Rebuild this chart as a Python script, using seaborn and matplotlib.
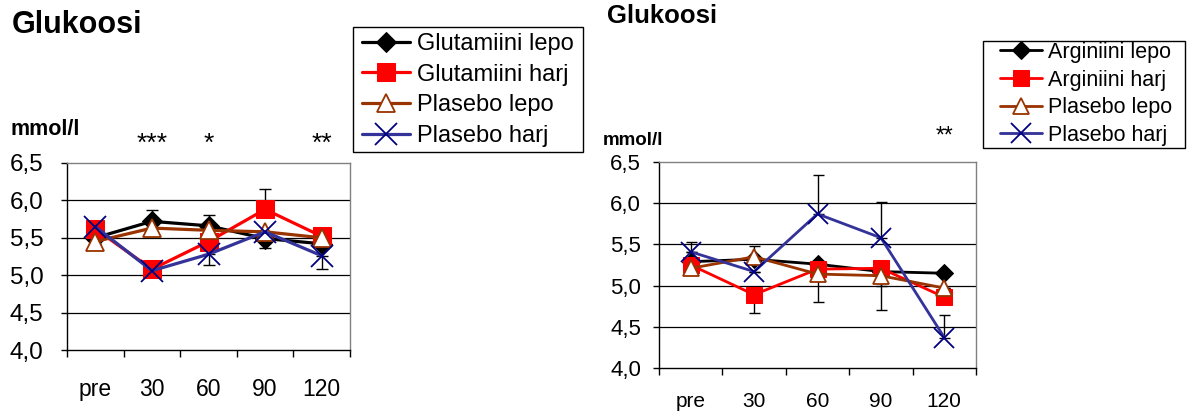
import matplotlib
matplotlib.use("Agg")
import matplotlib.pyplot as plt
import matplotlib.transforms as mtransforms
from matplotlib.patches import Rectangle
import seaborn as sns
import numpy as np

# ---------------- data ----------------
categories = ["pre", "30", "60", "90", "120"]
yticks = [4.0, 4.5, 5.0, 5.5, 6.0, 6.5]
ytick_labels = ["4,0", "4,5", "5,0", "5,5", "6,0", "6,5"]

# Left panel (glutamine)
left_names = ["Glutamiini lepo", "Glutamiini harj", "Plasebo lepo", "Plasebo harj"]
glu_lepo = [5.50, 5.72, 5.66, 5.49, 5.42]
glu_harj = [5.62, 5.08, 5.45, 5.88, 5.52]
plaL_lepo = [5.45, 5.63, 5.60, 5.58, 5.50]
plaL_harj = [5.65, 5.06, 5.28, 5.58, 5.26]
glu_lepo_up = [0.00, 0.15, 0.14, 0.00, 0.00]
glu_lepo_dn = [0.08, 0.00, 0.00, 0.12, 0.00]
glu_harj_up = [0.00, 0.00, 0.00, 0.27, 0.00]
glu_harj_dn = [0.00, 0.00, 0.00, 0.00, 0.00]
plaL_lepo_up = [0.00, 0.00, 0.00, 0.00, 0.00]
plaL_lepo_dn = [0.00, 0.11, 0.00, 0.00, 0.00]
plaL_harj_up = [0.00, 0.00, 0.00, 0.00, 0.00]
plaL_harj_dn = [0.00, 0.00, 0.15, 0.00, 0.18]
left_stars = {"30": "***", "60": "*", "120": "**"}

# Right panel (arginine)
right_names = ["Arginiini lepo", "Arginiini harj", "Plasebo lepo", "Plasebo harj"]
arg_lepo = [5.29, 5.32, 5.26, 5.17, 5.15]
arg_harj = [5.25, 4.89, 5.20, 5.21, 4.86]
plaR_lepo = [5.21, 5.35, 5.14, 5.12, 4.97]
plaR_harj = [5.41, 5.17, 5.87, 5.58, 4.37]
arg_lepo_up = [0.24, 0.16, 0.00, 0.00, 0.00]
arg_lepo_dn = [0.00, 0.00, 0.00, 0.17, 0.00]
arg_harj_up = [0.00, 0.00, 0.00, 0.00, 0.00]
arg_harj_dn = [0.00, 0.22, 0.00, 0.00, 0.00]
plaR_lepo_up = [0.00, 0.00, 0.00, 0.00, 0.00]
plaR_lepo_dn = [0.06, 0.00, 0.34, 0.42, 0.00]
plaR_harj_up = [0.00, 0.00, 0.47, 0.44, 0.27]
plaR_harj_dn = [0.00, 0.00, 0.00, 0.00, 0.00]
right_stars = {"120": "**"}

# ---------------- style ----------------
sns.set_theme(style="white")
plt.rcParams["font.family"] = ["Liberation Sans", "DejaVu Sans"]
plt.rcParams["text.color"] = "black"
plt.rcParams["xtick.color"] = "black"
plt.rcParams["ytick.color"] = "black"
plt.rcParams["axes.labelcolor"] = "black"

W, H = 1195, 416
fig = plt.figure(figsize=(W / 100, H / 100), dpi=100)
fig.patch.set_facecolor("white")


def px_axes(x0, y0, x1, y1):
    return fig.add_axes([x0 / W, 1 - y1 / H, (x1 - x0) / W, (y1 - y0) / H])


black, red, brown, blue, xblue = "#000000", "#FF0000", "#993300", "#333399", "#000080"


def draw_panel(ax, series, errs, names, scale, ytick_fs, xtick_fs, tick_pad_y, tick_pad_x):
    xpos = np.arange(len(categories))
    lw = 2.3 * scale
    styles = [
        dict(color=black, marker="D", markersize=10 * scale, markerfacecolor=black,
             markeredgecolor=black),
        dict(color=red, marker="s", markersize=13 * scale, markerfacecolor=red,
             markeredgecolor=red),
        dict(color=brown, marker="^", markersize=13 * scale, markerfacecolor="white",
             markeredgecolor=brown, markeredgewidth=1.3),
        dict(color=blue, marker="x", markersize=16 * scale, markeredgecolor=xblue,
             markeredgewidth=1.3),
    ]
    for vals, (up, dn), name, st in zip(series, errs, names, styles):
        ax.errorbar(xpos, vals, yerr=[dn, up], fmt="none", ecolor="black",
                    elinewidth=1.0, capsize=4.5 * scale, capthick=1.0, zorder=2)
        sns.lineplot(x=xpos, y=vals, ax=ax, sort=False, linewidth=lw, label=name,
                     zorder=3, **st)
    ax.set_xlim(-0.5, len(categories) - 0.5)
    ax.set_ylim(4.0, 6.5)
    ax.set_xticks(xpos)
    ax.set_xticklabels(categories, fontsize=xtick_fs)
    ax.set_xticks(np.arange(-0.5, len(categories)), minor=True)
    ax.tick_params(axis="x", which="major", length=0, pad=tick_pad_x)
    ax.tick_params(axis="x", which="minor", length=5, width=1, color="black",
                   direction="out", bottom=True)
    ax.set_yticks(yticks)
    ax.set_yticklabels(ytick_labels, fontsize=ytick_fs)
    ax.tick_params(axis="y", length=4, width=1, color="black", direction="out",
                   left=True, pad=tick_pad_y)
    for y in yticks[1:-1]:
        ax.axhline(y, color="black", linewidth=0.9, zorder=1)
    ax.spines["top"].set_color("#808080")
    ax.spines["right"].set_color("#808080")
    ax.spines["left"].set_color("black")
    ax.spines["bottom"].set_color("black")
    for s in ax.spines.values():
        s.set_linewidth(1.0)
    ax.set_xlabel("")
    ax.set_ylabel("")
    ax.grid(False)
    leg = ax.get_legend()
    if leg is not None:
        leg.remove()


# Left panel
axL = px_axes(67, 163, 350, 350)
draw_panel(
    axL,
    [glu_lepo, glu_harj, plaL_lepo, plaL_harj],
    [(glu_lepo_up, glu_lepo_dn), (glu_harj_up, glu_harj_dn),
     (plaL_lepo_up, plaL_lepo_dn), (plaL_harj_up, plaL_harj_dn)],
    left_names, 1.0, 17.5, 16.5, 13, 20,
)
# Right panel
axR = px_axes(659, 162, 976, 368)
draw_panel(
    axR,
    [arg_lepo, arg_harj, plaR_lepo, plaR_harj],
    [(arg_lepo_up, arg_lepo_dn), (arg_harj_up, arg_harj_dn),
     (plaR_lepo_up, plaR_lepo_dn), (plaR_harj_up, plaR_harj_dn)],
    right_names, 0.88, 16, 15, 9, 17,
)


def framed_legend(ax, box, line_x, rows_mid_y, fs, handlelength, textpad, spacing):
    x0, y0, x1, y1 = box
    fig.patches.append(Rectangle((x0 / W, 1 - y1 / H), (x1 - x0) / W, (y1 - y0) / H,
                                 transform=fig.transFigure, facecolor="white",
                                 edgecolor="black", linewidth=1.0, zorder=0))
    h, l = ax.get_legend_handles_labels()
    leg = fig.legend(h, l, loc="center left", bbox_to_anchor=(line_x / W, 1 - rows_mid_y / H),
                     fontsize=fs, frameon=False, handlelength=handlelength,
                     handletextpad=textpad, labelspacing=spacing, borderpad=0,
                     borderaxespad=0)
    return leg


framed_legend(axL, (353, 27, 583, 152), 362, 90, 17, 2.05, 0.3, 0.37)
framed_legend(axR, (983, 41, 1185, 148), 1000, 94, 15.5, 1.95, 0.28, 0.31)

# Titles and units
fig.text(12 / W, 1 - 33 / H, "Glukoosi", fontsize=22, fontweight="bold",
         va="baseline", ha="left")
fig.text(607 / W, 1 - 23 / H, "Glukoosi", fontsize=18.5, fontweight="bold",
         va="baseline", ha="left")
fig.text(10 / W, 1 - 135 / H, "mmol/l", fontsize=15.5, fontweight="bold",
         va="baseline", ha="left")
fig.text(603 / W, 1 - 145 / H, "mmol/l", fontsize=13.5, fontweight="bold",
         va="baseline", ha="left")

# Significance stars
for ax, stars, ypix, fs in [(axL, left_stars, 151, 19), (axR, right_stars, 143, 16.5)]:
    tr = mtransforms.blended_transform_factory(ax.transData, fig.transFigure)
    for cat, s in stars.items():
        ax.text(categories.index(cat), 1 - ypix / H, s, transform=tr, ha="center",
                va="baseline", fontsize=fs, clip_on=False)

fig.savefig("out.png", dpi=100, facecolor="white")
